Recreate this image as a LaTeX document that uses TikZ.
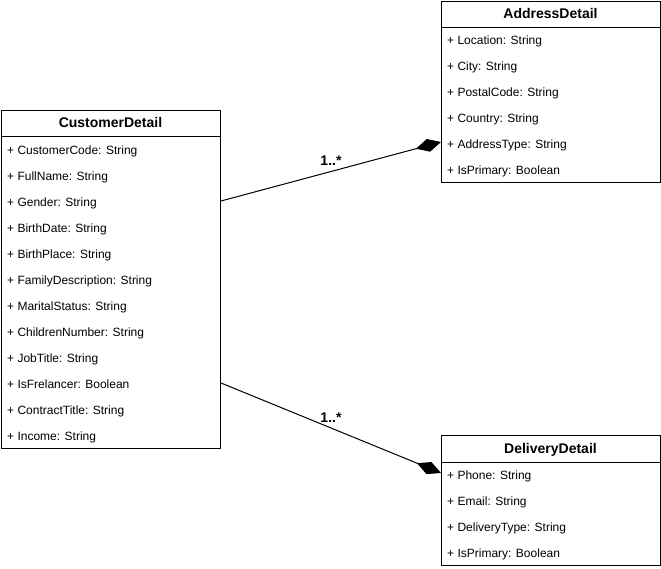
\documentclass[tikz,border=0pt]{standalone}
\usepackage{fontspec}
\setmainfont{Liberation Sans}
\usetikzlibrary{calc,arrows.meta}

\tikzset{
	classbox/.style={draw, line width=1pt, anchor=north west, inner sep=0pt, minimum width=219pt},
	title/.style={anchor=base, inner sep=0pt, font=\fontsize{14}{16}\selectfont\bfseries},
	attr/.style={anchor=base west, inner sep=0pt, font=\fontsize{12}{14}\selectfont},
	mult/.style={anchor=base, inner sep=0pt, font=\fontsize{14}{16}\selectfont\bfseries},
	comp/.style={line width=1pt, -{Diamond[length=26pt,width=13pt]}}
}

\begin{document}
\begin{tikzpicture}[x=1pt,y=-1pt]
				%%%%% START %%%%%
				\def\xc{1}
				\def\yc{110}
				\def\xa{441}
				\def\ya{1}
				\def\xd{441}
				\def\yd{435}
				\def\hhead{27}
				\def\wclass{219}

				\useasboundingbox (0,0) rectangle (661,569);

				% CustomerDetail
				\node[classbox, minimum height=338pt] (cust) at (\xc,\yc) {};
				\draw[line width=1pt] ($(cust.north west)+(0,\hhead)$) -- ($(cust.north east)+(0,\hhead)$);
				\node[title] (ctitle) at (\xc+\wclass/2,\yc+18) {CustomerDetail};
				\node[attr] (ccode) at (\xc+6,\yc+44.5) {+ CustomerCode: String};
				\node[attr] (cname) at (\xc+6,\yc+70.5) {+ FullName: String};
				\node[attr] (cgender) at (\xc+6,\yc+96.5) {+ Gender: String};
				\node[attr] (cbdate) at (\xc+6,\yc+122.5) {+ BirthDate: String};
				\node[attr] (cbplace) at (\xc+6,\yc+148.5) {+ BirthPlace: String};
				\node[attr] (cfamily) at (\xc+6,\yc+174.5) {+ FamilyDescription: String};
				\node[attr] (cmarital) at (\xc+6,\yc+200.5) {+ MaritalStatus: String};
				\node[attr] (cchildren) at (\xc+6,\yc+226.5) {+ ChildrenNumber: String};
				\node[attr] (cjob) at (\xc+6,\yc+252.5) {+ JobTitle: String};
				\node[attr] (cfree) at (\xc+6,\yc+278.5) {+ IsFrelancer: Boolean};
				\node[attr] (ccontract) at (\xc+6,\yc+304.5) {+ ContractTitle: String};
				\node[attr] (cincome) at (\xc+6,\yc+330.5) {+ Income: String};

				% AddressDetail
				\node[classbox, minimum height=181pt] (addr) at (\xa,\ya) {};
				\draw[line width=1pt] ($(addr.north west)+(0,\hhead)$) -- ($(addr.north east)+(0,\hhead)$);
				\node[title] (atitle) at (\xa+\wclass/2,\ya+18) {AddressDetail};
				\node[attr] (aloc) at (\xa+6,\ya+43.5) {+ Location: String};
				\node[attr] (acity) at (\xa+6,\ya+69.5) {+ City: String};
				\node[attr] (apostal) at (\xa+6,\ya+95.5) {+ PostalCode: String};
				\node[attr] (acountry) at (\xa+6,\ya+121.5) {+ Country: String};
				\node[attr] (atype) at (\xa+6,\ya+147.5) {+ AddressType: String};
				\node[attr] (aprim) at (\xa+6,\ya+173.5) {+ IsPrimary: Boolean};

				% DeliveryDetail
				\node[classbox, minimum height=130pt] (deliv) at (\xd,\yd) {};
				\draw[line width=1pt] ($(deliv.north west)+(0,\hhead)$) -- ($(deliv.north east)+(0,\hhead)$);
				\node[title] (dtitle) at (\xd+\wclass/2,\yd+18) {DeliveryDetail};
				\node[attr] (dphone) at (\xd+6,\yd+44.5) {+ Phone: String};
				\node[attr] (dmail) at (\xd+6,\yd+70.5) {+ Email: String};
				\node[attr] (dtype) at (\xd+6,\yd+96.5) {+ DeliveryType: String};
				\node[attr] (dprim) at (\xd+6,\yd+122.5) {+ IsPrimary: Boolean};

				% compositions
				\draw[comp] ($(cust.north east)+(0,91)$) -- ($(addr.north west)+(0,141)$);
				\node[mult] (m1) at (331,166) {1..*};
				\draw[comp] ($(cust.north east)+(0,273)$) -- ($(deliv.north west)+(0,38)$);
				\node[mult] (m2) at (331,422) {1..*};
				%%%%% START %%%%%
\end{tikzpicture}
\end{document}
